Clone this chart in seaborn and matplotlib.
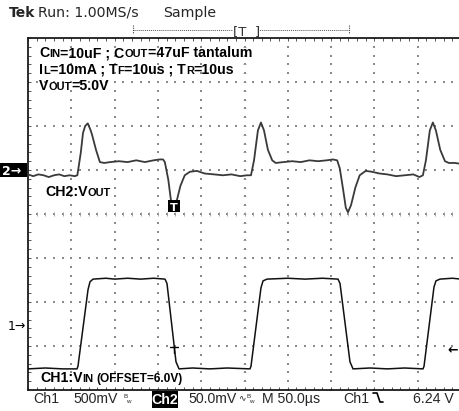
import matplotlib
matplotlib.use("Agg")
import numpy as np
import pandas as pd
import seaborn as sns
import matplotlib.pyplot as plt
from matplotlib.patches import Rectangle
from matplotlib.lines import Line2D

# ---------------- data (read from the screen) ----------------
# time axis in microseconds (M 50.0 us/div, 10 divisions)
vout_t = [0, 6, 12, 18, 24, 30, 36, 42, 48, 54, 57, 61, 63.5, 66, 69, 72, 74, 78.5, 83, 88,
          95, 105, 115, 125, 135, 145, 152, 156, 158, 162, 165, 169, 172, 176, 181, 187,
          195, 204, 215, 225, 235, 245, 253, 257.5, 261, 265.5, 269, 272.5, 277, 282, 286,
          295, 305, 315, 325, 335, 345, 352, 357, 360, 364, 367, 369.5, 373, 378, 383, 390,
          397, 406, 415, 425, 435, 445, 452, 456, 459.5, 464, 467.5, 471, 476, 481.5, 486,
          493, 500]
# CH2 : Vout deviation in mV (50.0 mV/div)
vout_mv = [-5, -7, -5, -6, -8, -6, -5, -7, -6, -7, -6, 20, 42, 50, 53, 46, 40, 23, 9, 8,
           9, 10, 9, 11, 9, 11, 12, 12, 9, -11, -34, -39, -34, -18, -6, -2,
           -1, -4, -5, -6, -5, -7, -6, -6, 11, 45, 54, 45, 23, 11, 8,
           9, 10, 9, 11, 10, 11, 12, 11, 2, -23, -43, -48, -40, -20, -6, -1,
           -2, -4, -5, -7, -6, -5, -8, -6, 11, 45, 54, 45, 23, 10, 8,
           8, 7]

vin_t = [0, 20, 40, 56.6, 57.7, 69.3, 71.6, 75.1, 90, 100, 115, 130, 145, 158.2, 160.5,
         170.9, 174.4, 190, 210, 230, 256.3, 257.5, 269.0, 271.4, 276.0, 300, 320, 340,
         358.0, 360.3, 371.8, 375.3, 395, 415, 435, 456.1, 457.3, 468.8, 471.1, 475.7, 490, 500]
# CH1 : Vin in volts (500 mV/div, offset 6.0 V)
vin_v = [5.49, 5.50, 5.49, 5.49, 5.52, 6.39, 6.48, 6.51, 6.52, 6.51, 6.52, 6.51, 6.52, 6.51, 6.46,
         5.57, 5.49, 5.50, 5.49, 5.50, 5.49, 5.52, 6.41, 6.49, 6.51, 6.52, 6.51, 6.52,
         6.51, 6.46, 5.57, 5.49, 5.50, 5.49, 5.50, 5.49, 5.52, 6.42, 6.49, 6.51, 6.52, 6.51]

ch1_scale, ch1_offset, ch1_pos = 0.5, 6.0, -2.5     # V/div, V, div
ch2_scale, ch2_pos = 50.0, 1.0                       # mV/div, div
time_per_div = 50.0

top_line = "Tek Run: 1.00MS/s"
status = ["Ch1", "500mV", "Ch2", "50.0mV", "M 50.0\u00b5s", "Ch1", "6.24 V"]

# ---------------- figure ----------------
sns.set_theme(style="white")
plt.rcParams["font.family"] = ["DejaVu Sans"]
W, H = 460, 411
fig = plt.figure(figsize=(W / 100, H / 100), dpi=100)
fig.patch.set_facecolor("white")
ax = fig.add_axes([28 / W, 1 - 390 / H, 433 / W, 352 / H])
ax.set_facecolor("white")
ax.set_xlim(0, 10 * time_per_div)
ax.set_ylim(-4, 4)
ax.set_xticks([]); ax.set_yticks([])
for s in ["top", "bottom", "left"]:
    ax.spines[s].set_color("#1a1a1a"); ax.spines[s].set_linewidth(1.3)
ax.spines["right"].set_visible(False)

# graticule dots
gx = np.arange(1, 10) * time_per_div
gy = np.arange(-3, 4)
fine_y = np.arange(-4, 4.001, 0.2)
fine_x = np.arange(0, 10.001, 0.2) * time_per_div
xs = np.concatenate([np.full(fine_y.size, x) for x in gx] + [fine_x for _ in gy])
ys = np.concatenate([fine_y for _ in gx] + [np.full(fine_x.size, y) for y in gy])
ax.scatter(xs, ys, s=1.2, c="#8a8a8a", marker="s", linewidths=0, zorder=1)
# center-cross and border minor ticks
tx = 3.0 / 43.3 * time_per_div
ty = 3.0 / 44
ax.vlines(fine_x, -ty * 0.6, ty * 0.6, color="#999999", lw=0.6, zorder=1)
ax.hlines(fine_y, 5 * time_per_div - tx * 0.6, 5 * time_per_div + tx * 0.6, color="#999999", lw=0.6, zorder=1)
ax.vlines(fine_x, 4 - ty, 4, color="#555555", lw=0.7, zorder=1)
ax.vlines(fine_x, -4, -4 + ty, color="#555555", lw=0.7, zorder=1)
ax.hlines(fine_y, 0, tx, color="#555555", lw=0.7, zorder=1)

# traces
df2 = pd.DataFrame({"t": vout_t, "div": np.array(vout_mv) / ch2_scale + ch2_pos})
df1 = pd.DataFrame({"t": vin_t, "div": (np.array(vin_v) - ch1_offset) / ch1_scale + ch1_pos})
sns.lineplot(data=df2, x="t", y="div", ax=ax, color="#3a3a3a", lw=1.3, sort=False,
             estimator=None, legend=False, zorder=3)
sns.lineplot(data=df1, x="t", y="div", ax=ax, color="#111111", lw=1.1, sort=False,
             estimator=None, legend=False, zorder=3)
ax.set_xlabel(""); ax.set_ylabel("")

# ---------------- text helpers ----------------
fig.canvas.draw()
R = fig.canvas.get_renderer()

def fx(x):
    return x / W

def fy(y):
    return 1 - y / H

def runs(x, y, parts, weight="bold", family="Liberation Sans", color="black", gap=0.0):
    for p in parts:
        if isinstance(p, (int, float)):
            x += p
            continue
        s, size = p
        t = fig.text(fx(x), fy(y), s, fontsize=size, fontweight=weight, family=family,
                     color=color, ha="left", va="baseline", zorder=6)
        x += t.get_window_extent(R).width + gap

BIG, SM = 10.2, 7.9
runs(39, 57, [("C", BIG), ("IN", SM), ("=10uF ; C", BIG), ("OUT", SM), ("=47uF tantalum", BIG)])
runs(39, 74, [("I", BIG), ("L", SM), ("=10mA ; T", BIG), ("F", SM), ("=10us ; T", BIG), ("R", SM), ("=10us", BIG)])
runs(39, 90, [("V", BIG), ("OUT", SM), ("=5.0V", BIG)])
runs(45, 196, [("CH2:V", BIG), ("OUT", SM)])
runs(40, 382, [("CH1:V", BIG), ("IN", SM), 3, ("(OFFSET=6.0V)", 8.6)])

# top status line
fig.text(fx(9), fy(17), "Tek", fontsize=10, fontweight="bold", ha="left", va="baseline")
fig.text(fx(38), fy(17), top_line.split(" ", 1)[1], fontsize=10.2, ha="left", va="baseline")
fig.text(fx(163), fy(17), "Sample", fontsize=10.2, ha="left", va="baseline")
fig.add_artist(Line2D([fx(133), fx(349)], [fy(30), fy(30)], ls=(0, (1, 1)), lw=0.7, color="#555555"))
for xx in (133, 349):
    fig.add_artist(Line2D([fx(xx), fx(xx)], [fy(25), fy(34)], ls=(0, (1, 1)), lw=0.8, color="#444444"))
fig.add_artist(Rectangle((fx(233), fy(36)), 24 / W, 12 / H, facecolor="white", edgecolor="none", zorder=4))
fig.text(fx(233), fy(35), "[T  ]", fontsize=9.5, color="#333333", ha="left", va="baseline", zorder=5)

# channel markers
fig.add_artist(Rectangle((0, fy(177)), 27 / W, 14 / H, facecolor="black", edgecolor="none", zorder=5))
fig.text(fx(2), fy(174.5), "2\u2192", fontsize=9, fontweight="bold", color="white", ha="left", va="baseline", zorder=6)
fig.text(fx(8), fy(330), "1\u2192", fontsize=9, color="black", ha="left", va="baseline", zorder=6)
fig.text(fx(447), fy(353), "\u2190", fontsize=9, fontweight="bold", color="black", ha="left", va="baseline", zorder=6)

# trigger markers
fig.add_artist(Rectangle((fx(168), fy(212)), 12 / W, 12 / H, facecolor="black", edgecolor="none", zorder=5))
fig.text(fx(174), fy(210.5), "T", fontsize=8, fontweight="bold", color="white", ha="center", va="baseline", zorder=6)
fig.add_artist(Line2D([fx(170), fx(178)], [fy(347), fy(347)], lw=1.0, color="black", zorder=6))
fig.add_artist(Line2D([fx(174), fx(174)], [fy(347), fy(353)], lw=1.0, color="black", zorder=6))

# bottom status bar
BS = 10.2
BF = ["Liberation Sans", "DejaVu Sans"]
def bt(x, y, s, size=BS, family=BF, **kw):
    fig.text(fx(x), fy(y), s, fontsize=size, family=family, ha="left", va="baseline", **kw)

bt(33, 403, status[0])
bt(73, 403, status[1])
bt(124, 398, "B", 4.5)
bt(126, 403, "w", 4.5)
fig.add_artist(Rectangle((fx(152), fy(408)), 26 / W, 17 / H, facecolor="black", edgecolor="none", zorder=5))
fig.text(fx(165), fy(404), status[2], fontsize=BS, family=BF, fontweight="bold", color="white",
         ha="center", va="baseline", zorder=6)
bt(188, 403, status[3])
bt(238, 400, "\u223f", 6.5, family=["DejaVu Sans", "Noto Sans"])
bt(247, 398, "B", 4.5)
bt(249, 403, "w", 4.5)
bt(262, 403, status[4])
bt(343, 403, status[5])
fig.add_artist(Line2D([fx(373), fx(377), fx(380), fx(383)], [fy(393), fy(393), fy(402), fy(402)], lw=1.2, color="black"))
bt(413, 403, status[6])

fig.savefig("out.png", dpi=100, facecolor="white")
